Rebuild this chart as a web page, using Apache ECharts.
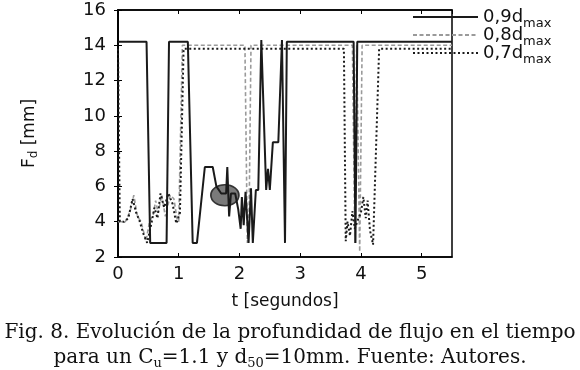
<!DOCTYPE html>
<html>
<head>
<meta charset="utf-8">
<script src="https://cdn.jsdelivr.net/npm/echarts@6/dist/echarts.min.js"></script>
<style>html,body{margin:0;padding:0;background:#fff}#c{width:580px;height:370px}</style>
</head>
<body>
<div id="c"></div>
<script>
// Tick labels
const xTicks = [0, 1, 2, 3, 4, 5];
const yTicks = [2, 4, 6, 8, 10, 12, 14, 16];
// Series 0,9 dmax (solid black)
const t09 = [0, 0.47, 0.53, 0.80, 0.84, 1.15, 1.23, 1.30, 1.43, 1.56, 1.62, 1.70, 1.78, 1.80, 1.83, 1.86, 1.93, 1.98, 2.02, 2.04, 2.07, 2.10, 2.15, 2.19, 2.22, 2.27, 2.31, 2.36, 2.44, 2.47, 2.50, 2.55, 2.64, 2.70, 2.75, 2.78, 3.88, 3.91, 3.94, 5.5];
const v09 = [14.2, 14.2, 2.8, 2.8, 14.2, 14.2, 2.8, 2.8, 7.1, 7.1, 6.0, 5.6, 5.6, 7.1, 4.3, 5.6, 5.6, 4.7, 3.6, 5.4, 3.8, 5.7, 2.8, 5.9, 2.8, 5.8, 5.8, 14.3, 5.8, 7.0, 5.8, 8.5, 8.5, 14.3, 2.8, 14.2, 14.2, 2.8, 14.2, 14.2];
// Series 0,8 dmax (grey dashed)
const t08 = [0, 0.12, 0.20, 0.26, 0.32, 0.38, 0.46, 0.52, 0.58, 0.62, 0.66, 0.72, 0.78, 0.86, 0.92, 0.97, 1.00, 1.06, 2.09, 2.13, 2.16, 2.19, 3.86, 3.90, 3.93, 3.98, 4.02, 5.5];
const v08 = [4.0, 4.0, 4.6, 5.5, 4.3, 4.0, 2.9, 4.0, 4.4, 5.2, 4.5, 5.5, 4.3, 5.5, 5.3, 4.2, 4.0, 14.0, 14.0, 2.8, 4.8, 14.0, 14.0, 2.8, 14.0, 2.3, 14.0, 14.0];
// Series 0,7 dmax (black dotted)
const t07 = [0, 0.03, 0.10, 0.17, 0.24, 0.30, 0.35, 0.42, 0.48, 0.55, 0.60, 0.65, 0.70, 0.76, 0.83, 0.90, 0.96, 1.02, 1.08, 3.72, 3.75, 3.78, 3.82, 3.86, 3.90, 3.96, 4.00, 4.04, 4.08, 4.11, 4.15, 4.20, 4.30, 5.5];
const v07 = [13.8, 4.0, 4.0, 4.2, 5.3, 4.5, 4.1, 3.3, 2.8, 3.9, 4.8, 4.2, 5.6, 4.8, 5.6, 5.0, 3.9, 4.5, 13.8, 13.8, 2.9, 4.0, 3.2, 4.6, 3.6, 4.2, 4.5, 5.4, 4.2, 5.2, 3.5, 2.7, 13.8, 13.8];
// Ellipse annotation (centre)
const ellipseT = [1.76];
const ellipseV = [5.5];

const pairs = (t, v) => t.map((x, i) => [x, v[i]]);

const chart = echarts.init(document.getElementById('c'), null, {renderer: 'canvas'});
const axisFont = {fontFamily: 'DejaVu Sans', fontSize: 18, color: '#111'};
const tickCfg = {show: true, inside: true, length: 4, lineStyle: {color: '#000', width: 1}};
chart.setOption({
  animation: false,
  backgroundColor: '#fff',
  title: {
    left: 'center', top: 315,
    text: '{n|Fig. 8. Evolución de la profundidad de flujo en el tiempo}\n{n|para un C}{s|u}{n|=1.1 y d}{s|50}{n|=10mm. Fuente: Autores.}',
    textStyle: {
      fontWeight: 'normal',
      rich: {
        n: {fontFamily: 'DejaVu Serif', fontSize: 20, fontWeight: 'normal', color: '#111', lineHeight: 25},
        s: {fontFamily: 'DejaVu Serif', fontSize: 13, fontWeight: 'normal', color: '#111', lineHeight: 13, verticalAlign: 'bottom'}
      }
    }
  },
  legend: {
    orient: 'vertical', left: 412, top: 8, padding: 0, itemWidth: 65, itemHeight: 12, itemGap: -4,
    data: ['0,9', '0,8', '0,7'],
    itemStyle: {opacity: 0},
    formatter: name => '{a|' + name + 'd}{b|max}',
    textStyle: {
      rich: {
        a: {fontFamily: 'DejaVu Sans', fontSize: 18, color: '#111', lineHeight: 18},
        b: {fontFamily: 'DejaVu Sans', fontSize: 13, color: '#111', lineHeight: 12, verticalAlign: 'bottom', padding: [0, 0, -4, 0]}
      }
    }
  },
  grid: {left: 118, right: 128, top: 10, bottom: 113, show: true, borderColor: '#000', borderWidth: 1.5, containLabel: false},
  xAxis: [{
    type: 'value', min: 0, max: 5.5, interval: 1,
    axisLine: {show: true, lineStyle: {color: '#000', width: 1.5}},
    axisTick: tickCfg, splitLine: {show: false},
    axisLabel: Object.assign({margin: 8, showMaxLabel: false, formatter: v => xTicks.includes(v) ? String(v) : ''}, axisFont),
    name: 't [segundos]', nameLocation: 'middle', nameGap: 36,
    nameTextStyle: {fontFamily: 'DejaVu Sans', fontSize: 17, color: '#111'}
  }, {
    type: 'value', min: 0, max: 5.5, interval: 1, position: 'top',
    axisLine: {show: true, lineStyle: {color: '#000', width: 1.5}},
    axisTick: tickCfg, axisLabel: {show: false}, splitLine: {show: false}
  }],
  yAxis: [{
    type: 'value', min: 2, max: 16, interval: 2,
    axisLine: {show: true, lineStyle: {color: '#000', width: 1.5}},
    axisTick: tickCfg, splitLine: {show: false},
    axisLabel: Object.assign({margin: 12, formatter: v => yTicks.includes(v) ? String(v) : ''}, axisFont),
    name: '{a|F}{b|d}{a| [mm]}', nameLocation: 'middle', nameGap: 78, nameRotate: 90,
    nameTextStyle: {
      rich: {
        a: {fontFamily: 'DejaVu Sans', fontSize: 17, color: '#111', lineHeight: 20},
        b: {fontFamily: 'DejaVu Sans', fontSize: 12, color: '#111', lineHeight: 12, verticalAlign: 'bottom'}
      }
    }
  }, {
    type: 'value', min: 2, max: 16, interval: 2, position: 'right',
    axisLine: {show: true, lineStyle: {color: '#000', width: 1.5}},
    axisTick: tickCfg, axisLabel: {show: false}, splitLine: {show: false}
  }],
  series: [
    {
      type: 'scatter', name: 'ellipse', z: 1, silent: true,
      data: pairs(ellipseT, ellipseV), symbol: 'circle', symbolSize: [28, 21],
      itemStyle: {color: '#7a7a7a', borderColor: '#333', borderWidth: 1.5, opacity: 1}
    },
    {
      type: 'line', name: '0,7', z: 3, symbol: 'none', data: pairs(t07, v07),
      lineStyle: {color: '#1a1a1a', width: 2, type: [2, 2.5]}, itemStyle: {color: '#1a1a1a'}
    },
    {
      type: 'line', name: '0,8', z: 2, symbol: 'none', data: pairs(t08, v08),
      lineStyle: {color: '#9a9a9a', width: 1.6, type: [4, 2.5]}, itemStyle: {color: '#9a9a9a'}
    },
    {
      type: 'line', name: '0,9', z: 4, symbol: 'none', data: pairs(t09, v09),
      lineStyle: {color: '#1a1a1a', width: 2, type: 'solid'}, itemStyle: {color: '#1a1a1a'}
    }
  ]
});
</script>
</body>
</html>
